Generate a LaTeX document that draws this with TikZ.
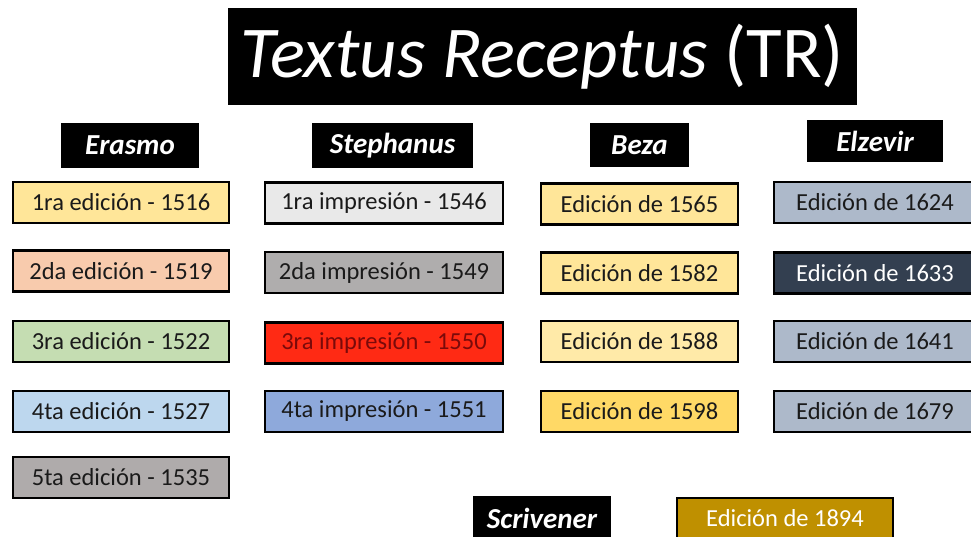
\documentclass[tikz,border=0pt]{standalone}
\usepackage{fontspec}
\setmainfont{Carlito}
\definecolor{cA}{HTML}{FFE699}
\definecolor{cB}{HTML}{F8CBAD}
\definecolor{cC}{HTML}{C5DDB2}
\definecolor{cD}{HTML}{BDD7EE}
\definecolor{cE}{HTML}{AFABAB}
\definecolor{cF}{HTML}{E9E9E9}
\definecolor{cG}{HTML}{AFADAD}
\definecolor{cH}{HTML}{FF2A14}
\definecolor{cHt}{HTML}{7A0A0A}
\definecolor{cI}{HTML}{8EA9DB}
\definecolor{cJ}{HTML}{FFD966}
\definecolor{cK}{HTML}{ADB9CA}
\definecolor{cL}{HTML}{333F50}
\definecolor{cM}{HTML}{BF9000}
\definecolor{txt}{HTML}{1A1A1A}
\tikzset{
  ed/.style={draw=black, line width=2.8pt, rectangle, minimum height=41pt, inner sep=0pt,
    font=\fontsize{24.5}{27}\selectfont, text=txt},
  hdr/.style={fill=black, rectangle, minimum height=45pt, inner sep=0pt, text=white,
    font=\fontsize{29}{31}\selectfont\bfseries\itshape},
}
\begin{document}
\begin{tikzpicture}[x=1pt,y=-1pt]
\useasboundingbox[fill=white] (0,0) rectangle (971,537);
% title
\node[fill=black, minimum width=629pt, minimum height=97pt, inner sep=0pt, text=white,
  font=\fontsize{73}{75}\selectfont] (title) at (542.5,56.5) {\textit{Textus Receptus} (TR)};
% headers
\node[hdr, minimum width=138pt] (herasmo) at (130,145.5) {Erasmo};
\node[hdr, minimum width=161pt] (hsteph) at (392.5,145.5) {Stephanus};
\node[hdr, minimum width=99pt, minimum height=44pt] (hbeza) at (639.5,145) {Beza};
\node[hdr, minimum width=136pt, minimum height=42pt] (helz) at (875,141) {Elzevir};
\node[hdr, minimum width=138pt] (hscriv) at (542,518.5) {Scrivener};
% Erasmo
\node[ed, fill=cA, minimum width=216pt] (e1) at (121,202.5) {1ra edición - 1516};
\node[ed, fill=cB, minimum width=216pt] (e2) at (121,271) {2da edición - 1519};
\node[ed, fill=cC, minimum width=216pt] (e3) at (121,341.5) {3ra edición - 1522};
\node[ed, fill=cD, minimum width=216pt] (e4) at (121,411.5) {4ta edición - 1527};
\node[ed, fill=cE, minimum width=216pt] (e5) at (121,477.5) {5ta edición - 1535};
% Stephanus
\node[ed, fill=cF, minimum width=238pt] (s1) at (384,203) {1ra impresión - 1546};
\node[ed, fill=cG, minimum width=238pt] (s2) at (384,272.5) {2da impresión - 1549};
\node[ed, fill=cH, minimum width=238pt, text=cHt] (s3) at (384,343) {3ra impresión - 1550};
\node[ed, fill=cI, minimum width=238pt] (s4) at (384,411.5) {4ta impresión - 1551};
% Beza
\node[ed, fill=cA, minimum width=197pt] (b1) at (639.5,204) {Edición de 1565};
\node[ed, fill=cA, minimum width=197pt] (b2) at (639.5,273) {Edición de 1582};
\node[ed, fill=cA!85!white, minimum width=197pt] (b3) at (639.5,341.5) {Edición de 1588};
\node[ed, fill=cJ, minimum width=197pt] (b4) at (639.5,411.5) {Edición de 1598};
% Elzevir
\node[ed, fill=cK, minimum width=202pt] (z1) at (875,202.5) {Edición de 1624};
\node[ed, fill=cL, minimum width=202pt, text=white] (z2) at (875,273) {Edición de 1633};
\node[ed, fill=cK, minimum width=202pt] (z3) at (875,341.5) {Edición de 1641};
\node[ed, fill=cK, minimum width=202pt] (z4) at (875,411.5) {Edición de 1679};
% Scrivener
\node[ed, fill=cM, minimum width=216pt, text=white] (sc1) at (785,518.5) {Edición de 1894};
\end{tikzpicture}
\end{document}
